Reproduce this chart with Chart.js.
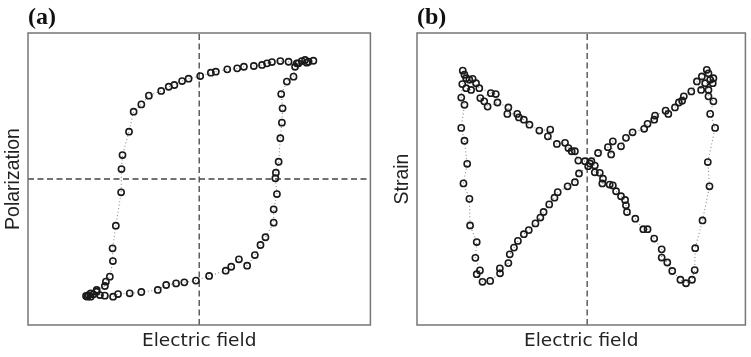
<!DOCTYPE html>
<html>
<head>
<meta charset="utf-8">
<script src="https://cdn.jsdelivr.net/npm/chart.js@4.4.1/dist/chart.umd.min.js"></script>
<style>
  html, body { margin: 0; padding: 0; background: #fff; }
  #wrap { position: relative; width: 751px; height: 357px; }
  #ca { position: absolute; left: 0; top: 0; }
  #cb { position: absolute; left: 376px; top: 0; }
</style>
</head>
<body>
<div id="wrap">
  <canvas id="ca" width="376" height="357"></canvas>
  <canvas id="cb" width="375" height="357"></canvas>
</div>
<script>
// ---- Panel (a): polarization hysteresis loop (normalized units) ----
const aField = [
  -0.661,-0.647,-0.634,-0.618,-0.599,-0.580,-0.551,-0.503,-0.474,-0.406,
  -0.338,-0.242,-0.193,-0.135,-0.087,-0.019,0.058,0.155,0.187,0.232,
  0.280,0.325,0.358,0.387,0.435,0.435,0.454,0.445,0.448,0.464,
  0.474,0.483,0.487,0.479,0.512,0.551,0.560,0.580,0.599,0.618,
  0.638,0.667,0.628,0.570,0.522,0.474,0.425,0.396,0.367,0.319,
  0.261,0.222,0.164,0.097,0.068,0.006,-0.062,-0.100,-0.145,-0.178,
  -0.222,-0.294,-0.338,-0.383,-0.410,-0.448,-0.454,-0.456,-0.487,-0.506,
  -0.504,-0.522,-0.545,-0.551,-0.599,-0.634,-0.653
];
const aPolarization = [
  -0.801,-0.795,-0.806,-0.790,-0.772,-0.795,-0.799,-0.806,-0.788,-0.783,
  -0.774,-0.760,-0.726,-0.715,-0.708,-0.696,-0.664,-0.628,-0.601,-0.550,
  -0.594,-0.521,-0.452,-0.399,-0.299,-0.208,-0.103,0.005,0.043,0.118,
  0.279,0.386,0.484,0.582,0.667,0.701,0.769,0.792,0.808,0.815,
  0.803,0.810,0.797,0.792,0.803,0.808,0.801,0.792,0.781,0.774,
  0.769,0.758,0.751,0.735,0.728,0.705,0.687,0.671,0.644,0.632,
  0.603,0.571,0.511,0.461,0.324,0.164,0.068,-0.091,-0.320,-0.475,
  -0.562,-0.669,-0.703,-0.733,-0.760,-0.783,-0.806
];

// ---- Panel (b): butterfly strain loop (normalized units) ----
const bField = [
  -0.731,-0.721,-0.711,-0.734,-0.740,-0.721,-0.740,-0.721,-0.705,-0.727,
  -0.692,-0.688,-0.649,-0.657,-0.630,-0.649,-0.615,-0.570,
  -0.512,-0.513,-0.463,-0.455,-0.430,-0.407,-0.372,-0.343,-0.304,-0.275,
  -0.256,-0.223,-0.192,-0.173,-0.115,-0.072,-0.048,0.006,0.025,0.064,
  0.122,0.141,0.151,0.199,0.228,0.267,0.335,0.355,0.394,0.399,
  0.461,0.477,0.516,0.539,0.558,0.568,0.612,0.645,0.670,0.674,0.703,
  0.713,0.723,0.742,0.738,0.694,0.713,0.713,0.742,0.723,0.752,
  0.709,0.719,0.678,0.635,0.632,0.616,0.581,0.548,
  0.500,0.471,0.438,0.438,0.394,0.355,0.330,0.283,0.234,0.228,
  0.223,0.199,0.170,0.151,0.132,0.089,0.093,0.074,0.045,0.045,
  0.016,-0.013,-0.052,-0.072,-0.091,-0.110,-0.130,-0.178,-0.231,-0.217,
  -0.281,-0.339,-0.372,-0.401,-0.411,-0.469,-0.463,-0.527,-0.585,-0.605,
  -0.628,-0.566,-0.537,-0.634,-0.653,-0.682,-0.711,-0.673,-0.692
];
const bStrain = [
  0.871,0.857,0.845,0.825,0.779,0.754,0.675,0.631,0.552,0.485,
  0.432,0.341,0.284,0.230,0.187,0.174,0.148,0.151,
  0.177,0.194,0.212,0.242,0.265,0.288,0.311,0.325,0.348,0.368,
  0.387,0.413,0.436,0.455,0.475,0.489,0.519,0.544,0.561,0.589,
  0.609,0.584,0.629,0.612,0.641,0.660,0.672,0.689,0.703,0.717,
  0.734,0.723,0.745,0.762,0.768,0.783,0.800,0.834,0.805,0.851,0.874,
  0.862,0.840,0.845,0.828,0.828,0.805,0.783,0.766,0.723,0.675,
  0.558,0.475,0.358,0.263,0.188,0.155,0.143,0.155,
  0.185,0.214,0.231,0.259,0.296,0.328,0.328,0.364,0.387,0.410,
  0.428,0.441,0.458,0.478,0.481,0.485,0.501,0.521,0.523,0.546,
  0.553,0.561,0.563,0.595,0.595,0.606,0.624,0.620,0.646,0.669,
  0.666,0.686,0.703,0.711,0.723,0.723,0.745,0.762,0.748,0.766,
  0.777,0.794,0.791,0.811,0.828,0.805,0.811,0.843,0.840
];

// zero reference lines
const aZeroV = [{x: 0, y: -1}, {x: 0, y: 1}];
const aZeroH = [{x: -1, y: 0}, {x: 1, y: 0}];
const bZeroV = [{x: 0, y: 0}, {x: 0, y: 1}];

const framePlugin = {
  id: 'frame',
  afterDraw(chart) {
    const {ctx, chartArea: a} = chart;
    ctx.save();
    ctx.strokeStyle = '#767676';
    ctx.lineWidth = 1.5;
    ctx.strokeRect(a.left, a.top, a.right - a.left, a.bottom - a.top);
    ctx.restore();
  }
};

function loopDataset(xs, ys) {
  return {
    data: xs.map((x, i) => ({x: x, y: ys[i]})),
    showLine: true,
    borderColor: '#888',
    borderWidth: 1.1,
    borderDash: [1, 2.5],
    pointRadius: 3.1,
    pointBorderWidth: 1.6,
    pointBorderColor: '#1a1a1a',
    pointBackgroundColor: 'rgba(0,0,0,0)',
    tension: 0
  };
}
function refDataset(pts) {
  return {
    data: pts, showLine: true, borderColor: '#444', borderWidth: 1.3,
    borderDash: [6, 3.5], pointRadius: 0, tension: 0
  };
}

function makeOptions(title, yTitle, xMin, xMax, yMin, yMax, padLeft, padRight) {
  return {
    responsive: false,
    devicePixelRatio: 1,
    animation: false,
    layout: {padding: {left: padLeft, right: padRight, top: 0, bottom: 0}},
    plugins: {
      legend: {display: false},
      tooltip: {enabled: false},
      title: {
        display: true, text: title, align: 'start', fullSize: false,
        color: '#111',
        font: {family: 'Liberation Serif', size: 24, weight: 'bold'},
        padding: {top: 3, bottom: 1.2}
      }
    },
    scales: {
      x: {
        type: 'linear', min: xMin, max: xMax,
        grid: {display: false, drawTicks: false},
        border: {display: false},
        ticks: {display: false},
        title: {
          display: true, text: 'Electric field', color: '#222',
          font: {family: 'DejaVu Sans', size: 18.5},
          padding: {top: 4.9, bottom: 4.9}
        }
      },
      y: {
        type: 'linear', min: yMin, max: yMax,
        grid: {display: false, drawTicks: false},
        border: {display: false},
        ticks: {display: false},
        title: {
          display: true, text: yTitle, color: '#222',
          font: {family: 'Liberation Sans', size: 19.5},
          padding: {top: 2.3, bottom: 2.3}
        }
      }
    }
  };
}

new Chart(document.getElementById('ca'), {
  type: 'scatter',
  data: {datasets: [loopDataset(aField, aPolarization), refDataset(aZeroV), refDataset(aZeroH)]},
  options: makeOptions('(a)', 'Polarization', -1, 1, -1, 1, 0, 3),
  plugins: [framePlugin]
});

new Chart(document.getElementById('cb'), {
  type: 'scatter',
  data: {datasets: [loopDataset(bField, bStrain), refDataset(bZeroV)]},
  options: makeOptions('(b)', 'Strain', -1, 0.93, 0, 1, 13, 2),
  plugins: [framePlugin]
});
</script>
</body>
</html>
